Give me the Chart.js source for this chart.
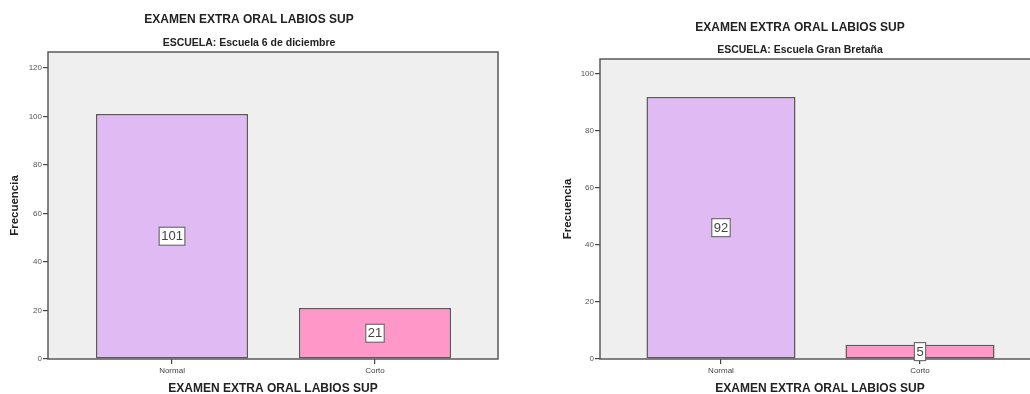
<!DOCTYPE html>
<html>
<head>
<meta charset="utf-8">
<script src="https://cdn.jsdelivr.net/npm/chart.js@4"></script>
<style>
  html, body { margin: 0; padding: 0; background: #ffffff; overflow: hidden; width: 1030px; height: 394px; }
  .box { position: absolute; top: 0; }
</style>
</head>
<body>
<div class="box" style="left:0px;width:500px;height:395px;"><canvas id="c1" width="500" height="395"></canvas></div>
<div class="box" style="left:560px;width:480px;height:395px;"><canvas id="c2" width="480" height="395"></canvas></div>
<script>
// Categories of the variable
const categories = ['Normal', 'Corto'];
// Frequencies per school
const valuesEscuela6Dic = [101, 21];
const valuesGranBretana = [92, 5];
// Y axis tick values
const ticksEscuela6Dic = [0, 20, 40, 60, 80, 100, 120];
const ticksGranBretana = [0, 20, 40, 60, 80, 100];

const mainTitle = 'EXAMEN EXTRA ORAL LABIOS SUP';
const yTitle = 'Frecuencia';
const barColors = ['#dfbaf3', '#ff98c8'];

// Grey plot background with a dark frame
const frame = {
  id: 'frame',
  beforeDraw(chart) {
    const a = chart.chartArea, ctx = chart.ctx;
    ctx.save();
    ctx.fillStyle = '#efefef';
    ctx.fillRect(a.left, a.top, a.right - a.left, a.bottom - a.top);
    ctx.restore();
  },
  afterDatasetsDraw(chart) {
    const a = chart.chartArea, ctx = chart.ctx;
    ctx.save();
    ctx.strokeStyle = '#5a5a5a';
    ctx.lineWidth = 1.5;
    ctx.strokeRect(a.left, a.top, a.right - a.left, a.bottom - a.top);
    ctx.restore();
  }
};

// Boxed value label in the middle of every bar
const valueBoxes = {
  id: 'valueBoxes',
  afterDraw(chart) {
    const ctx = chart.ctx;
    const ds = chart.data.datasets[0];
    const meta = chart.getDatasetMeta(0);
    ctx.save();
    ctx.font = '13px "Liberation Sans", Arial, sans-serif';
    ctx.textAlign = 'center';
    ctx.textBaseline = 'middle';
    meta.data.forEach((bar, i) => {
      const txt = String(ds.data[i].y);
      const cy = (bar.y + bar.base) / 2;
      const w = ctx.measureText(txt).width + 4;
      const h = 18;
      ctx.fillStyle = '#ffffff';
      ctx.fillRect(bar.x - w / 2, cy - h / 2, w, h);
      ctx.strokeStyle = '#6e6e6e';
      ctx.lineWidth = 1.2;
      ctx.strokeRect(bar.x - w / 2, cy - h / 2, w, h);
      ctx.fillStyle = '#444444';
      ctx.fillText(txt, bar.x, cy + 0.5);
    });
    ctx.restore();
  }
};

function makeChart(id, subtitle, values, yTicks, cfg) {
  const points = categories.map((c, i) => ({ x: i, y: values[i] }));
  return new Chart(document.getElementById(id), {
    type: 'bar',
    data: {
      datasets: [{
        data: points,
        backgroundColor: barColors,
        borderColor: '#5a5a5a',
        borderWidth: 1.5,
        borderSkipped: false,
        barPercentage: 1,
        categoryPercentage: 0.749
      }]
    },
    plugins: [frame, valueBoxes],
    options: {
      responsive: false,
      animation: false,
      events: [],
      layout: { padding: { left: 0, right: cfg.padRight, top: 0, bottom: 0 } },
      plugins: {
        legend: { display: false },
        tooltip: { enabled: false },
        title: {
          display: true,
          text: mainTitle,
          color: '#222222',
          font: { family: '"Liberation Sans", Arial, sans-serif', size: 12, weight: 'bold' },
          padding: { top: cfg.titleTop, bottom: 0 }
        },
        subtitle: {
          display: true,
          text: 'ESCUELA: ' + subtitle,
          color: '#222222',
          font: { family: '"Liberation Sans", Arial, sans-serif', size: 10.5, weight: 'bold' },
          padding: { top: cfg.subTop, bottom: cfg.subBottom }
        }
      },
      scales: {
        x: {
          type: 'linear',
          min: cfg.xMin,
          max: cfg.xMax,
          offset: false,
          afterBuildTicks(scale) { scale.ticks = categories.map((c, i) => ({ value: i })); },
          afterFit(scale) { scale.height = 395 - cfg.bottom; },
          ticks: {
            autoSkip: false,
            maxRotation: 0,
            padding: 2,
            color: '#444444',
            font: { family: '"Liberation Sans", Arial, sans-serif', size: 8 },
            callback: (v) => categories[v]
          },
          grid: { offset: false, drawOnChartArea: false, drawTicks: true, tickLength: 5, color: '#444444', lineWidth: 1.2 },
          border: { display: false },
          title: {
            display: true,
            text: mainTitle,
            color: '#222222',
            font: { family: '"Liberation Sans", Arial, sans-serif', size: 12, weight: 'bold', lineHeight: 1 },
            padding: { top: 0, bottom: 0 }
          }
        },
        y: {
          min: 0,
          max: cfg.yMax,
          afterBuildTicks(scale) { scale.ticks = yTicks.map(v => ({ value: v })); },
          afterFit(scale) { scale.width = cfg.yWidth; },
          ticks: {
            padding: 1,
            color: '#555555',
            font: { family: '"Liberation Sans", Arial, sans-serif', size: 8 }
          },
          grid: { drawOnChartArea: false, drawTicks: true, tickLength: 5, color: '#444444', lineWidth: 1.2 },
          border: { display: false },
          title: {
            display: true,
            text: yTitle,
            color: '#222222',
            font: { family: '"Liberation Sans", Arial, sans-serif', size: 11.5, weight: 'bold' },
            padding: { top: cfg.yTitlePad, bottom: 0 }
          }
        }
      }
    }
  });
}

makeChart('c1', 'Escuela 6 de diciembre', valuesEscuela6Dic, ticksEscuela6Dic, {
  padRight: 2, titleTop: 12.8, subTop: 9.5, subBottom: 2.7,
  xMin: -0.611, xMax: 1.606, yMax: 126.6, yWidth: 48, bottom: 359, yTitlePad: 8
});

makeChart('c2', 'Escuela Gran Bretaña', valuesGranBretana, ticksGranBretana, {
  padRight: 0, titleTop: 20.8, subTop: 8.5, subBottom: 2.7,
  xMin: -0.608, xMax: 1.603, yMax: 105.3, yWidth: 40, bottom: 359, yTitlePad: 1
});
</script>
</body>
</html>
